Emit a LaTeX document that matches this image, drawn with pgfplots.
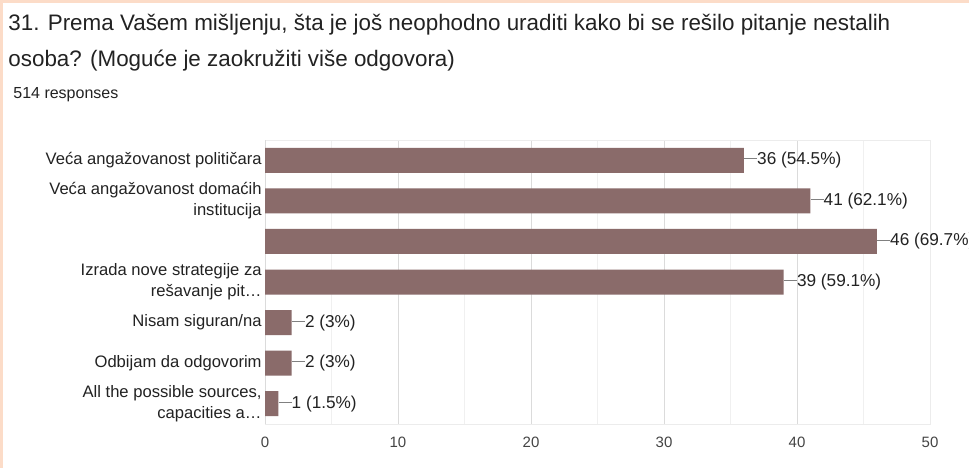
\documentclass[border=0pt]{standalone}
\usepackage{pgfplots}
\pgfplotsset{compat=1.18}
\usepackage{fontspec}
\setmainfont{Liberation Sans}
\definecolor{barcol}{HTML}{8A6B6A}
\definecolor{peach}{HTML}{FCDCC8}
\definecolor{txt}{HTML}{222222}
\definecolor{ticktxt}{HTML}{444444}
\begin{document}
\begin{tikzpicture}[x=0.5pt,y=-0.5pt]
\clip (0,0) rectangle (969,468);
\fill[white] (0,0) rectangle (969,468);
\fill[peach] (0,0) rectangle (969,3);
\fill[peach] (0,0) rectangle (3,468);
\coordinate (topleft) at (265,140);
% titles
\node[anchor=base west,inner sep=0,font=\fontsize{11.2}{13}\selectfont,text=txt] at (8,30)
  {31. Prema Vašem mišljenju, šta je još neophodno uraditi kako bi se rešilo pitanje nestalih};
\node[anchor=base west,inner sep=0,font=\fontsize{11.2}{13}\selectfont,text=txt] at (8,66)
  {osoba? (Moguće je zaokružiti više odgovora)};
\node[anchor=base west,inner sep=0,font=\fontsize{8}{9}\selectfont,text=txt] at (13,98)
  {514 responses};
\begin{axis}[
  at={(topleft)}, anchor=north west,
  scale only axis, width=332.5pt, height=142pt,
  xbar, bar width=12.5pt,
  xmin=0, xmax=50,
  ymin=-0.5, ymax=6.5, y dir=reverse,
  xtick={0,10,20,30,40,50},
  minor xtick={5,15,25,35,45},
  ytick={0,1,2,3,4,5,6},
  yticklabels={Veća angažovanost političara,
    {Veća angažovanost domaćih\\institucija},
    {},
    {Izrada nove strategije za\\rešavanje pit\ldots},
    Nisam siguran/na,
    Odbijam da odgovorim,
    {All the possible sources,\\capacities a\ldots}},
  yticklabel style={align=right,font=\fontsize{8.3}{10.5}\selectfont,text=txt,inner sep=1.5pt},
  xticklabel style={font=\fontsize{7.5}{8}\selectfont,text=ticktxt,yshift=-3pt},
  /pgf/number format/assume math mode=true,
  major tick length=0pt, minor tick length=0pt,
  xmajorgrids, xminorgrids,
  major grid style={draw=gray!28,line width=0.5pt},
  minor grid style={draw=gray!12,line width=0.5pt},
  axis line style={draw=gray!15},
  extra x ticks={0}, extra x tick labels={},
  extra x tick style={grid style={draw=black,line width=0.6pt}},
  nodes near coords={\textcolor{gray}{\rule[0.6ex]{6.5pt}{0.4pt}}\pgfplotspointmeta},
  point meta=explicit symbolic,
  every node near coord/.append style={anchor=west,inner sep=0pt,
    font=\fontsize{8.6}{9}\selectfont,text=txt},
]
\addplot[fill=barcol,draw=none] coordinates {
  (36,0) [36 (54.5\%)]
  (41,1) [41 (62.1\%)]
  (46,2) [46 (69.7\%)]
  (39,3) [39 (59.1\%)]
  (2,4) [2 (3\%)]
  (2,5) [2 (3\%)]
  (1,6) [1 (1.5\%)]
};
\end{axis}
\end{tikzpicture}
\end{document}
